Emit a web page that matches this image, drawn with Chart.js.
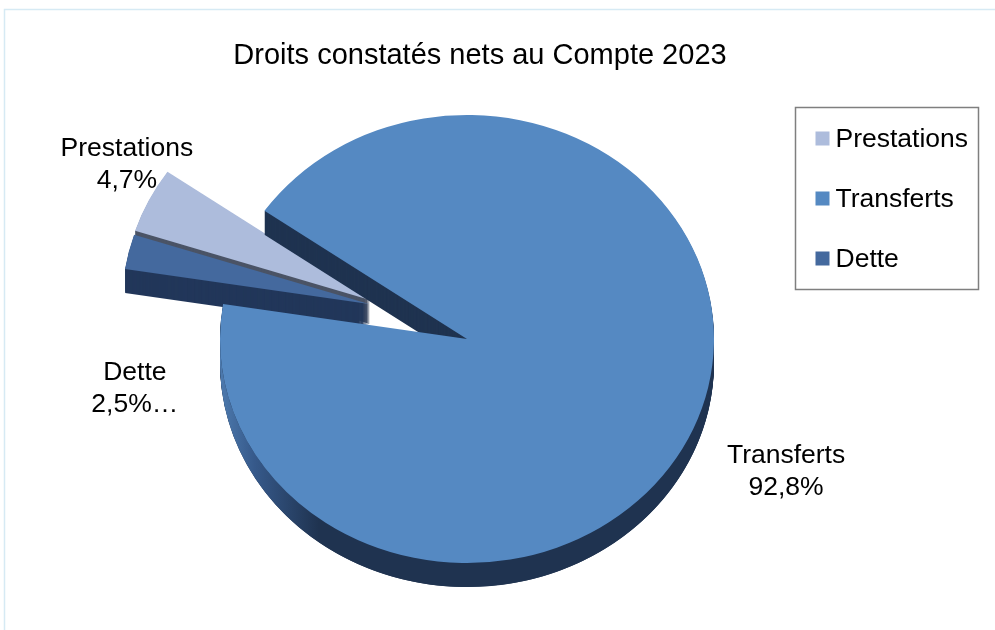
<!DOCTYPE html>
<html lang="fr">
<head>
<meta charset="utf-8">
<title>Droits constatés nets au Compte 2023</title>
<script src="https://cdn.jsdelivr.net/npm/chart.js@4.4.1/dist/chart.umd.min.js"></script>
<style>
  html, body { margin: 0; padding: 0; background: #fff; }
  #wrap { position: relative; width: 995px; height: 630px; }
</style>
</head>
<body>
<div id="wrap"><canvas id="pie-3d"></canvas></div>
<script>
const TITLE = "Droits constatés nets au Compte 2023"
const categories = ["Prestations", "Transferts", "Dette"]
const parts = [4.7, 92.8, 2.5]
const valueSuffix = ["", "", "…"]

const topColors = ["#adbcdc", "#5589c2", "#44699e"]
const sideColors = ["#4b5466", "#1f3350", "#22375a"]
// pull-out of each slice, px
const explode = [[-97, -39], [0, 0], [-98, -35]]
// label centre relative to the outer middle of its slice
const labelShift = [[-22, -36], [90, 49], [6, 137]]

const DEPTH = 24
const SQUASH = 224 / 247
const FONT = '"Liberation Sans", Arial, sans-serif'

function sector(ctx, x, y, r, a0, a1) {
    ctx.beginPath()
    ctx.moveTo(x, y)
    ctx.ellipse(x, y, r, r * SQUASH, 0, a0, a1)
    ctx.closePath()
}

function fmt(v, i) {
    return v.toFixed(1).replace(".", ",") + "%" + valueSuffix[i]
}

const pie3d = {
    id: "pie3d",
    beforeDraw(chart) {
        let ctx = chart.ctx
        ctx.save()
        ctx.strokeStyle = "#d6eaf4"
        ctx.lineWidth = 1.5
        ctx.strokeRect(4.5, 9.5, 1100, 800)
        // title sits a little right of the pie centre
        ctx.font = "29px " + FONT
        ctx.fillStyle = "#000"
        ctx.textAlign = "center"
        ctx.textBaseline = "middle"
        ctx.fillText(TITLE, 480, 56)
        ctx.restore()
    },
    beforeDatasetsDraw(chart) {
        let ctx = chart.ctx
        let arcs = chart.getDatasetMeta(0).data
        // back to front: slices pulled upwards are further away
        let order = arcs.map((a, i) => i).sort((a, b) => explode[a][1] - explode[b][1])
        ctx.save()
        for (let i of order) {
            let a = arcs[i]
            let x = a.x + explode[i][0]
            let y = a.y + explode[i][1]
            let r = a.outerRadius
            // body of the slice
            ctx.fillStyle = sideColors[i]
            for (let d = DEPTH; d > 0; d--) {
                sector(ctx, x, y + d, r, a.startAngle, a.endAngle)
                ctx.fill()
            }
            // rounded front wall, lit from the left
            let grad = ctx.createLinearGradient(x - r, 0, x + r, 0)
            grad.addColorStop(0, "#4d7aae")
            grad.addColorStop(0.07, "#36598a")
            grad.addColorStop(0.2, sideColors[i])
            grad.addColorStop(1, sideColors[i])
            for (let k = -1; k <= 2; k++) {
                let lo = Math.max(a.startAngle, 2 * Math.PI * k)
                let hi = Math.min(a.endAngle, 2 * Math.PI * k + Math.PI)
                if (hi <= lo) continue
                ctx.beginPath()
                ctx.ellipse(x, y, r, r * SQUASH, 0, lo, hi)
                ctx.ellipse(x, y + DEPTH, r, r * SQUASH, 0, hi, lo, true)
                ctx.closePath()
                ctx.fillStyle = grad
                ctx.fill()
            }
            ctx.fillStyle = a.options.backgroundColor
            sector(ctx, x, y, r, a.startAngle, a.endAngle)
            ctx.fill()
        }
        ctx.restore()
        return false
    },
    afterDraw(chart) {
        let ctx = chart.ctx
        let arcs = chart.getDatasetMeta(0).data
        let ds = chart.data.datasets[0]
        ctx.save()
        ctx.font = "26.5px " + FONT
        ctx.fillStyle = "#000"
        ctx.textAlign = "center"
        ctx.textBaseline = "middle"
        // data labels
        arcs.forEach((a, i) => {
            let mid = (a.startAngle + a.endAngle) / 2
            let r = a.outerRadius
            let lx = a.x + explode[i][0] + Math.cos(mid) * r + labelShift[i][0]
            let ly = a.y + explode[i][1] + Math.sin(mid) * r * SQUASH + labelShift[i][1]
            ctx.fillText(chart.data.labels[i], lx, ly - 16)
            ctx.fillText(fmt(ds.data[i], i), lx, ly + 16)
        })
        // legend
        let lg = { left: 795.5, top: 107.5, width: 183, height: 182 }
        ctx.strokeStyle = "#7f7f7f"
        ctx.lineWidth = 1.5
        ctx.strokeRect(lg.left, lg.top, lg.width, lg.height)
        ctx.textAlign = "left"
        chart.data.labels.forEach((lab, i) => {
            let ry = lg.top + 31 + i * 60
            ctx.fillStyle = ds.backgroundColor[i]
            ctx.fillRect(lg.left + 20, ry - 7, 14, 14)
            ctx.fillStyle = "#000"
            ctx.fillText(lab, lg.left + 40, ry + 1)
        })
        ctx.restore()
    }
}

new Chart(document.getElementById("pie-3d"), {
    type: "pie",
    data: {
        labels: categories,
        datasets: [{
            data: parts,
            backgroundColor: topColors,
            borderWidth: 0
        }]
    },
    options: {
        responsive: true,
        maintainAspectRatio: false,
        animation: false,
        rotation: 288,
        radius: 247,
        layout: { padding: { left: 0, right: 61, top: 84, bottom: 36 } },
        plugins: {
            legend: { display: false },
            tooltip: { enabled: false },
            title: { display: false }
        }
    },
    plugins: [pie3d]
})
</script>
</body>
</html>
